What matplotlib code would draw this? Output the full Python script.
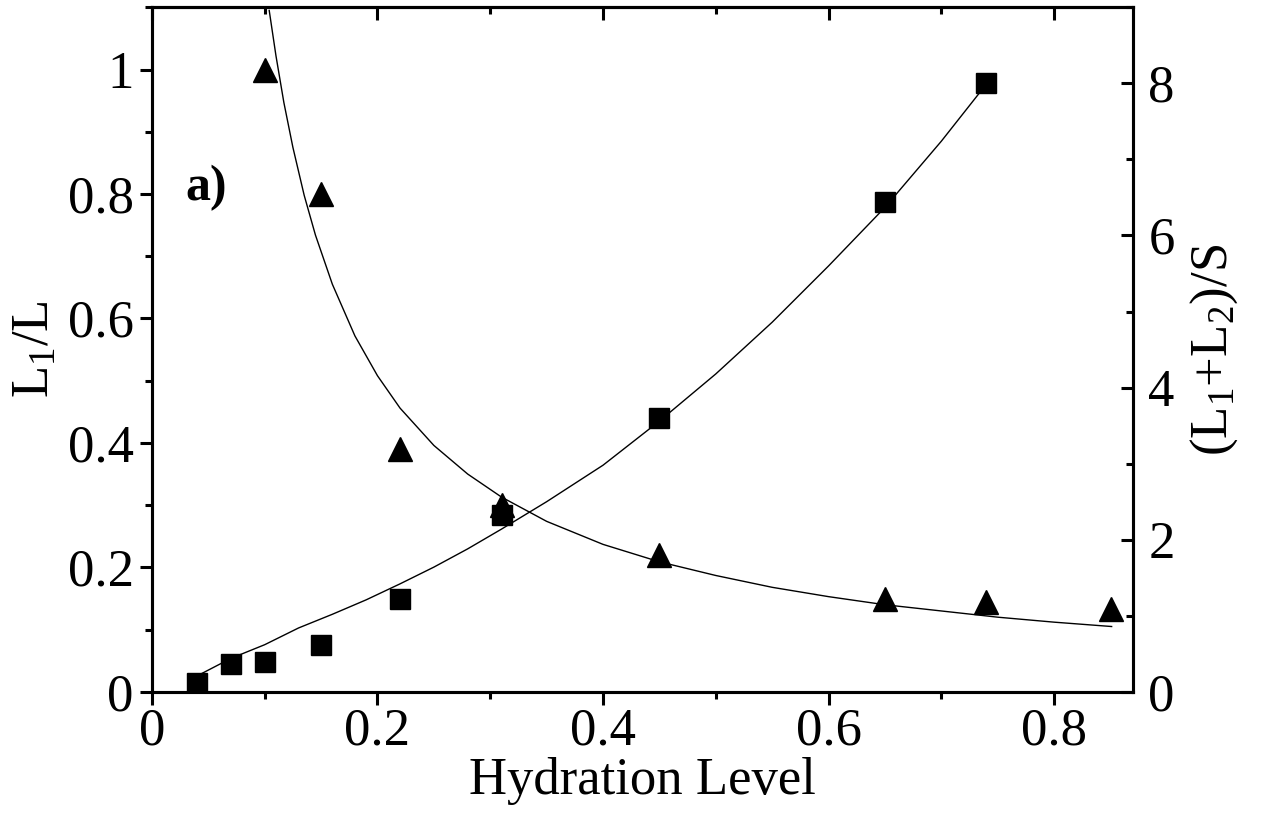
import matplotlib
matplotlib.use('Agg')
import matplotlib.pyplot as plt
from matplotlib.ticker import MultipleLocator

plt.rcParams['font.family'] = ['Liberation Serif', 'DejaVu Serif']
plt.rcParams['mathtext.fontset'] = 'custom'
plt.rcParams['mathtext.rm'] = 'Liberation Serif'
plt.rcParams['mathtext.default'] = 'regular'

# L1/L (triangles, left axis)
tri_x = [0.10, 0.15, 0.22, 0.31, 0.45, 0.65, 0.74, 0.85]
tri_y = [1.00, 0.80, 0.39, 0.30, 0.22, 0.15, 0.145, 0.133]

# (L1+L2)/S (squares, right axis)
sq_x = [0.04, 0.07, 0.10, 0.15, 0.22, 0.31, 0.45, 0.65, 0.74]
sq_y = [0.12, 0.36, 0.39, 0.62, 1.22, 2.32, 3.60, 6.44, 8.01]

# fit curves
fit_tri_x = [0.104, 0.110, 0.117, 0.125, 0.135, 0.145, 0.160, 0.180, 0.200, 0.220,
             0.250, 0.280, 0.310, 0.350, 0.400, 0.450, 0.500, 0.550, 0.600, 0.650,
             0.700, 0.750, 0.800, 0.851]
fit_tri_y = [1.095, 1.022, 0.947, 0.875, 0.798, 0.734, 0.655, 0.572, 0.508, 0.456,
             0.396, 0.350, 0.313, 0.274, 0.237, 0.209, 0.187, 0.168, 0.153, 0.140,
             0.130, 0.120, 0.112, 0.105]

fit_sq_x = [0.044, 0.070, 0.100, 0.130, 0.160, 0.190, 0.220, 0.250, 0.280, 0.310,
            0.350, 0.400, 0.450, 0.500, 0.550, 0.600, 0.650, 0.700, 0.741]
fit_sq_y = [0.24, 0.44, 0.62, 0.84, 1.02, 1.21, 1.42, 1.64, 1.88, 2.14,
            2.50, 2.98, 3.56, 4.18, 4.86, 5.60, 6.37, 7.24, 8.01]

x_ticks = [0, 0.2, 0.4, 0.6, 0.8]
x_labels = ['0', '0.2', '0.4', '0.6', '0.8']
yl_ticks = [0, 0.2, 0.4, 0.6, 0.8, 1.0]
yl_labels = ['0', '0.2', '0.4', '0.6', '0.8', '1']
yr_ticks = [0, 2, 4, 6, 8]
yr_labels = ['0', '2', '4', '6', '8']

FS = 38

fig = plt.figure(figsize=(12.66, 8.13), dpi=100)
ax = fig.add_axes([0.120, 0.149, 0.775, 0.842])
ax2 = ax.twinx()

ax.plot(fit_tri_x, fit_tri_y, color='black', lw=1.0)
ax.plot(tri_x, tri_y, linestyle='none', marker='^', ms=17, color='black')
ax2.plot(fit_sq_x, fit_sq_y, color='black', lw=1.0)
ax2.plot(sq_x, sq_y, linestyle='none', marker='s', ms=14, color='black')

ax.set_xlim(0, 0.87)
ax.set_ylim(0, 1.1)
ax2.set_ylim(0, 9)

ax.set_xticks(x_ticks)
ax.set_xticklabels(x_labels)
ax.set_yticks(yl_ticks)
ax.set_yticklabels(yl_labels)
ax2.set_yticks(yr_ticks)
ax2.set_yticklabels(yr_labels)
ax.xaxis.set_minor_locator(MultipleLocator(0.1))
ax.yaxis.set_minor_locator(MultipleLocator(0.1))
ax2.yaxis.set_minor_locator(MultipleLocator(1))

for a in (ax, ax2):
    for s in a.spines.values():
        s.set_linewidth(2.2)

ax.tick_params(axis='x', which='both', direction='out', top=False, labelsize=FS, width=2.2, pad=2)
ax.tick_params(axis='y', which='both', direction='out', right=False, labelsize=FS, width=2.2, pad=4)
ax.tick_params(which='major', length=9)
ax.tick_params(which='minor', length=5)
ax2.tick_params(axis='y', which='both', direction='in', labelsize=FS, width=2.2, pad=11)
ax2.tick_params(which='major', length=9)
ax2.tick_params(which='minor', length=5)

# inward ticks along the top edge
top = ax.secondary_xaxis('top')
top.set_xticks(x_ticks)
top.xaxis.set_minor_locator(MultipleLocator(0.1))
top.tick_params(which='both', direction='in', labeltop=False, width=2.2)
top.tick_params(which='major', length=9)
top.tick_params(which='minor', length=5)
top.spines['top'].set_linewidth(2.2)

ax.set_xlabel('Hydration Level', fontsize=FS, labelpad=1)
ax.set_ylabel('L$_1$/L', fontsize=FS, labelpad=6)
ax2.set_ylabel('(L$_1$+L$_2$)/S', fontsize=FS, labelpad=10)

ax.text(0.034, 0.718, 'a)', transform=ax.transAxes, fontsize=36,
        fontweight='bold', va='baseline')

fig.savefig('out.png', dpi=100)
